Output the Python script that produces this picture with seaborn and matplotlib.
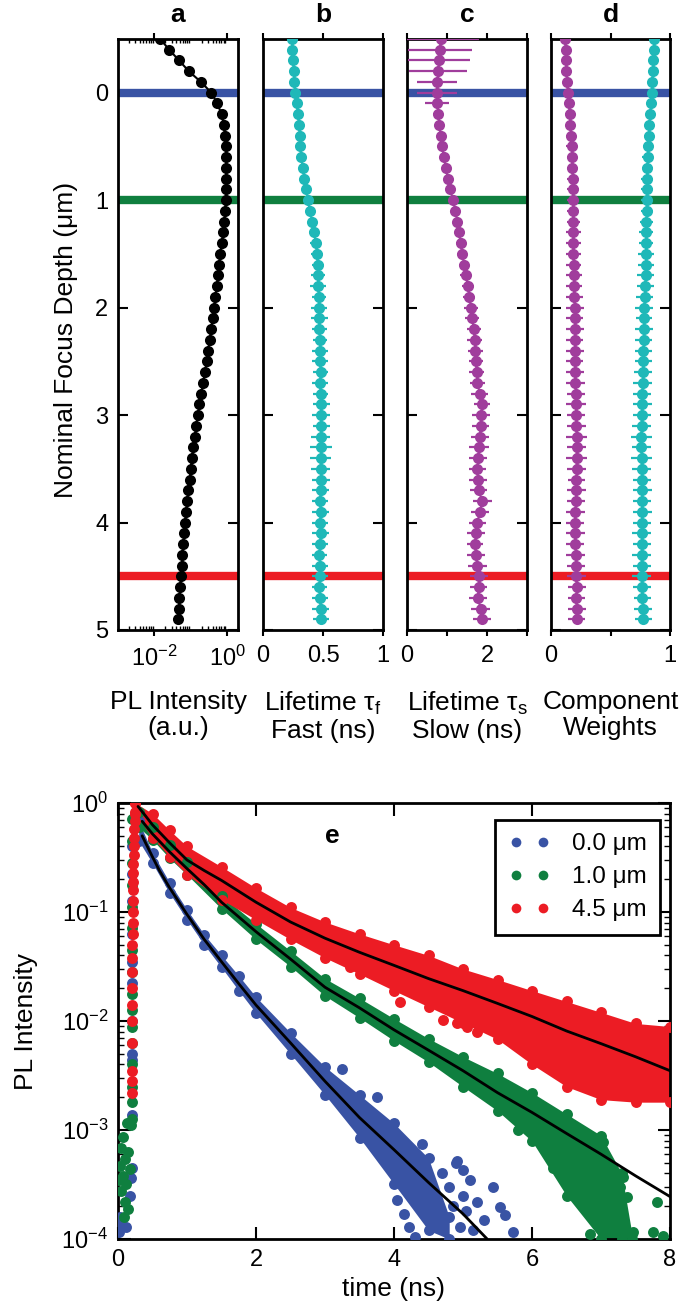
import numpy as np
import pandas as pd
import matplotlib
matplotlib.use("Agg")
import matplotlib.pyplot as plt
import seaborn as sns
from matplotlib.lines import Line2D
from matplotlib.ticker import FixedLocator, LogLocator, NullLocator

# ---- depth scan (panels a-d) ----
depth = [-0.5, -0.4, -0.3, -0.2, -0.1, 0.0, 0.1, 0.2, 0.3, 0.4,
         0.5, 0.6, 0.7, 0.8, 0.9, 1.0, 1.1, 1.2, 1.3, 1.4,
         1.5, 1.6, 1.7, 1.8, 1.9, 2.0, 2.1, 2.2, 2.3, 2.4,
         2.5, 2.6, 2.7, 2.8, 2.9, 3.0, 3.1, 3.2, 3.3, 3.4,
         3.5, 3.6, 3.7, 3.8, 3.9, 4.0, 4.1, 4.2, 4.3, 4.4,
         4.5, 4.6, 4.7, 4.8, 4.9]

pl_int = [0.0145, 0.0257, 0.0479, 0.0891, 0.191, 0.372, 0.537, 0.708, 0.813, 0.871,
          0.912, 0.933, 0.933, 0.933, 0.933, 0.912, 0.891, 0.832, 0.776, 0.708,
          0.646, 0.603, 0.562, 0.513, 0.479, 0.437, 0.398, 0.363, 0.331, 0.302,
          0.275, 0.245, 0.219, 0.195, 0.174, 0.155, 0.141, 0.129, 0.117, 0.107,
          0.100, 0.0933, 0.0851, 0.0794, 0.0741, 0.0692, 0.0661, 0.0617, 0.0589, 0.0562,
          0.0537, 0.0513, 0.0490, 0.0468, 0.0447]

tau_fast = [0.24, 0.245, 0.25, 0.255, 0.26, 0.27, 0.28, 0.29, 0.30, 0.305,
            0.31, 0.32, 0.33, 0.345, 0.36, 0.375, 0.39, 0.41, 0.425, 0.44,
            0.45, 0.455, 0.46, 0.46, 0.465, 0.465, 0.47, 0.47, 0.475, 0.475,
            0.475, 0.48, 0.475, 0.48, 0.485, 0.48, 0.485, 0.48, 0.485, 0.48,
            0.48, 0.485, 0.48, 0.475, 0.48, 0.475, 0.48, 0.475, 0.47, 0.475,
            0.475, 0.47, 0.475, 0.48, 0.485]
tau_fast_err = [0.01, 0.01, 0.01, 0.01, 0.01, 0.01, 0.01, 0.012, 0.014, 0.016,
                0.018, 0.02, 0.02, 0.022, 0.024, 0.026, 0.028, 0.03, 0.04, 0.045,
                0.05, 0.05, 0.06, 0.065, 0.06, 0.065, 0.07, 0.065, 0.06, 0.065,
                0.07, 0.065, 0.07, 0.065, 0.07, 0.075, 0.07, 0.08, 0.09, 0.09,
                0.08, 0.075, 0.07, 0.065, 0.07, 0.065, 0.07, 0.065, 0.06, 0.065,
                0.07, 0.06, 0.065, 0.07, 0.065]

tau_slow = [0.84, 0.82, 0.80, 0.78, 0.76, 0.75, 0.76, 0.78, 0.81, 0.84,
            0.88, 0.92, 0.97, 1.02, 1.08, 1.15, 1.21, 1.26, 1.30, 1.34,
            1.38, 1.43, 1.47, 1.52, 1.56, 1.60, 1.63, 1.67, 1.69, 1.71,
            1.72, 1.74, 1.76, 1.82, 1.88, 1.85, 1.84, 1.82, 1.80, 1.78,
            1.76, 1.77, 1.79, 1.88, 1.82, 1.76, 1.72, 1.70, 1.72, 1.76,
            1.80, 1.79, 1.77, 1.84, 1.87]
tau_slow_err = [0.95, 0.8, 0.78, 0.72, 0.5, 0.5, 0.3, 0.12, 0.06, 0.04,
                0.04, 0.04, 0.05, 0.05, 0.05, 0.06, 0.06, 0.07, 0.1, 0.11,
                0.12, 0.13, 0.14, 0.15, 0.15, 0.18, 0.17, 0.18, 0.19, 0.18,
                0.18, 0.19, 0.18, 0.21, 0.2, 0.22, 0.21, 0.22, 0.24, 0.23,
                0.21, 0.22, 0.21, 0.24, 0.22, 0.21, 0.22, 0.21, 0.22, 0.24,
                0.22, 0.21, 0.22, 0.24, 0.22]

w_slow = [0.118, 0.122, 0.126, 0.13, 0.136, 0.143, 0.15, 0.156, 0.162, 0.168,
          0.174, 0.177, 0.18, 0.182, 0.184, 0.185, 0.186, 0.187, 0.188, 0.188,
          0.189, 0.19, 0.192, 0.194, 0.196, 0.2, 0.2, 0.201, 0.2, 0.202,
          0.2, 0.203, 0.205, 0.208, 0.21, 0.213, 0.214, 0.215, 0.216, 0.215,
          0.215, 0.214, 0.212, 0.21, 0.205, 0.2, 0.202, 0.205, 0.208, 0.21,
          0.213, 0.215, 0.214, 0.215, 0.215]
w_fast = [0.866, 0.862, 0.858, 0.855, 0.85, 0.846, 0.84, 0.834, 0.826, 0.82,
          0.815, 0.812, 0.81, 0.808, 0.806, 0.804, 0.803, 0.802, 0.801, 0.8,
          0.8, 0.798, 0.795, 0.792, 0.788, 0.784, 0.782, 0.78, 0.779, 0.777,
          0.775, 0.773, 0.77, 0.767, 0.765, 0.762, 0.761, 0.76, 0.76, 0.761,
          0.762, 0.763, 0.765, 0.765, 0.766, 0.765, 0.764, 0.763, 0.762, 0.762,
          0.762, 0.764, 0.768, 0.772, 0.775]
w_err = [0.01, 0.01, 0.012, 0.014, 0.016, 0.02, 0.03, 0.035, 0.04, 0.04,
         0.045, 0.045, 0.045, 0.05, 0.05, 0.05, 0.05, 0.055, 0.06, 0.06,
         0.065, 0.065, 0.07, 0.07, 0.07, 0.075, 0.07, 0.075, 0.07, 0.075,
         0.07, 0.075, 0.08, 0.075, 0.08, 0.075, 0.08, 0.085, 0.08, 0.085,
         0.08, 0.075, 0.08, 0.075, 0.08, 0.075, 0.08, 0.075, 0.08, 0.075,
         0.08, 0.075, 0.07, 0.075, 0.07]

marked_depths = [0.0, 1.0, 4.5]
marked_labels = ["0.0 \u03bcm", "1.0 \u03bcm", "4.5 \u03bcm"]
marked_colors = ["#3953A4", "#0F7F3F", "#EC1C24"]

# ---- decay curves (panel e) ----
# blue: 0.0 um
blue_fit_t = [0.35, 0.4, 0.5, 0.6, 0.75, 1.0, 1.25, 1.5, 1.75, 2.0, 2.5, 3.0, 3.5, 4.0, 4.5, 5.0, 5.35]
blue_fit_I = [0.50, 0.43, 0.32, 0.24, 0.166, 0.095, 0.056, 0.035, 0.022, 0.014,
              6.3e-3, 2.8e-3, 1.3e-3, 6.6e-4, 3.3e-4, 1.7e-4, 1.0e-4]
blue_band_t = [0.3, 0.5, 0.75, 1.0, 1.25, 1.5, 1.75, 2.0, 2.5, 3.0, 3.5, 4.0, 4.5, 4.8]
blue_band_lo = [0.45, 0.28, 0.148, 0.085, 0.050, 0.031, 0.019, 0.0118, 5.0e-3, 2.1e-3,
                8.5e-4, 3.2e-4, 1.2e-4, 1.0e-4]
blue_band_hi = [0.68, 0.35, 0.185, 0.105, 0.062, 0.040, 0.026, 0.0166, 7.8e-3, 3.8e-3,
                2.1e-3, 1.15e-3, 5.5e-4, 1.6e-4]
blue_dot_t = [0.21, 0.21, 0.21, 0.21, 0.21, 0.2, 0.2, 0.2, 0.2, 0.2,
              0.2, 0.19, 0.03, 0.05, 0.12, 0.02, 0.17,
              3.25, 3.75, 4.05, 4.15, 4.22, 4.3, 4.4, 4.6, 4.7, 4.75, 4.8, 4.85, 4.9, 4.91,
              4.95, 5.0, 5.0, 5.05, 5.1, 5.15, 5.2, 5.3, 5.43, 5.54, 5.61, 5.72]
blue_dot_I = [0.40, 0.224, 0.126, 0.063, 0.035, 0.0224, 0.010, 5.0e-3, 4.4e-3, 1.38e-3,
              4.5e-4, 3.6e-4, 1.6e-4, 1.35e-4, 1.3e-4, 1.15e-4, 2.5e-4,
              3.6e-3, 2.0e-3, 2.3e-4, 1.7e-4, 1.3e-4, 1.05e-4, 7.5e-4, 2.5e-4, 4.0e-4, 1.6e-4,
              3.0e-4, 2.0e-4, 5.0e-4, 5.2e-4,
              1.3e-4, 4.3e-4, 2.5e-4, 1.8e-4, 3.5e-4, 1.2e-4, 2.2e-4, 1.5e-4, 3.0e-4, 1.95e-4,
              1.65e-4, 1.15e-4]

# green: 1.0 um
green_fit_t = [0.35, 0.5, 0.75, 1.0, 1.25, 1.5, 2.0, 2.5, 3.0, 3.5, 4.0, 4.5, 5.0, 5.5, 6.0, 6.5, 7.0, 7.5, 8.0]
green_fit_I = [0.68, 0.52, 0.355, 0.25, 0.178, 0.123, 0.066, 0.037, 0.0204, 0.0132,
               8.3e-3, 5.4e-3, 3.5e-3, 2.2e-3, 1.45e-3, 9.3e-4, 6.0e-4, 3.8e-4, 2.45e-4]
green_band_t = [0.3, 0.5, 0.75, 1.0, 1.5, 2.0, 2.5, 3.0, 3.5, 4.0, 4.5, 5.0, 5.5, 6.0, 6.5, 7.0, 7.3, 7.45]
green_band_lo = [0.60, 0.46, 0.31, 0.22, 0.107, 0.056, 0.0316, 0.017, 0.0107, 6.6e-3,
                 4.2e-3, 2.5e-3, 1.5e-3, 7.9e-4, 2.5e-4, 1.0e-4, 1.0e-4, 1.0e-4]
green_band_hi = [0.83, 0.60, 0.41, 0.29, 0.141, 0.078, 0.044, 0.0245, 0.0162, 0.0105,
                 6.9e-3, 4.7e-3, 3.3e-3, 2.2e-3, 1.4e-3, 8.9e-4, 4.0e-4, 1.1e-4]
green_dot_t = [0.2, 0.2, 0.2, 0.2, 0.2, 0.2, 0.2, 0.2, 0.2, 0.2, 0.2, 0.2, 0.2, 0.2, 0.2, 0.2,
               0.13, 0.19, 0.07, 0.05, 0.15, 0.10, 0.03, 0.17, 0.07, 0.12, 0.05, 0.10, 0.08, 0.14, 0.02,
               7.03, 7.32, 7.27, 7.38, 7.32, 7.46, 7.81, 7.76, 7.9, 6.84, 5.8, 6.3]
green_dot_I = [0.71, 0.45, 0.28, 0.178, 0.112, 0.071, 0.045, 0.028, 0.0178, 0.0126, 8.9e-3, 6.3e-3,
               4.0e-3, 2.5e-3, 1.8e-3, 1.26e-3,
               1.15e-3, 1.1e-3, 8.7e-4, 6.8e-4, 6.3e-4, 5.4e-4, 4.7e-4, 4.4e-4, 3.8e-4, 3.2e-4,
               2.75e-4, 2.2e-4, 1.6e-4, 1.9e-4, 3.5e-4,
               7.8e-4, 3.7e-4, 3.0e-4, 2.45e-4, 1.4e-4, 1.15e-4, 2.2e-4, 1.15e-4, 1.07e-4, 1.1e-4,
               1.0e-3, 4.5e-4]

# red: 4.5 um
red_fit_t = [0.29, 0.4, 0.5, 0.75, 1.0, 1.25, 1.5, 2.0, 2.5, 3.0, 3.5, 4.0, 4.5, 5.0, 5.5, 6.0, 6.5, 7.0, 7.5, 8.0]
red_fit_I = [0.93, 0.76, 0.63, 0.43, 0.30, 0.24, 0.195, 0.123, 0.081, 0.0575, 0.0427, 0.0324,
             0.0245, 0.019, 0.0145, 0.011, 8.1e-3, 6.2e-3, 4.7e-3, 3.5e-3]
red_band_t = [0.25, 0.5, 0.75, 1.0, 1.5, 2.0, 2.5, 3.0, 3.5, 4.0, 4.5, 5.0, 5.5, 6.0, 6.5, 7.0, 7.5, 8.0]
red_band_lo = [0.79, 0.48, 0.32, 0.22, 0.13, 0.085, 0.056, 0.038, 0.027, 0.019, 0.0135, 9.6e-3,
               6.8e-3, 4.0e-3, 2.5e-3, 1.9e-3, 1.8e-3, 1.8e-3]
red_band_hi = [1.0, 0.80, 0.56, 0.40, 0.26, 0.166, 0.11, 0.081, 0.063, 0.050, 0.040, 0.030,
               0.024, 0.019, 0.0151, 0.012, 9.5e-3, 8.9e-3]
red_dot_t = [0.24, 0.24, 0.24, 0.23, 0.23, 0.23, 0.23, 0.22, 0.22, 0.22, 0.22, 0.22, 0.22,
             0.22, 0.22, 0.21, 0.21, 0.21, 0.21, 0.21, 0.21, 0.21, 0.21, 0.21, 0.21,
             4.09, 4.71, 4.91, 5.06, 5.2, 3.36, 5.83]
red_dot_I = [1.0, 0.83, 0.69, 0.575, 0.48, 0.40, 0.33, 0.275, 0.23, 0.19, 0.158, 0.126, 0.10,
             0.079, 0.063, 0.050, 0.038, 0.028, 0.020, 0.0141, 0.010, 6.3e-3, 3.5e-3, 2.8e-3, 2.2e-3,
             0.0148, 0.0102, 9.5e-3, 8.9e-3, 7.9e-3, 0.0316, 5.8e-3]

cyan = "#1FB8B8"
magenta = "#A03D9C"

sns.set_style("ticks")
plt.rcParams['font.family'] = ['Liberation Sans', 'DejaVu Sans']
plt.rcParams['mathtext.fontset'] = 'custom'
plt.rcParams['mathtext.rm'] = 'Liberation Sans'
plt.rcParams['mathtext.it'] = 'Liberation Sans:italic'
plt.rcParams['mathtext.bf'] = 'Liberation Sans:bold'
plt.rcParams['axes.edgecolor'] = 'black'
plt.rcParams['text.color'] = 'black'
plt.rcParams['axes.labelcolor'] = 'black'
plt.rcParams['xtick.color'] = 'black'
plt.rcParams['ytick.color'] = 'black'

W, H = 685, 1315
fig = plt.figure(figsize=(W / 100, H / 100), dpi=100)


def box(x0, y0, x1, y1):
    return [x0 / W, 1 - y1 / H, (x1 - x0) / W, (y1 - y0) / H]


ax_a = fig.add_axes(box(118, 39, 238, 630))
ax_b = fig.add_axes(box(263, 39, 383, 630))
ax_c = fig.add_axes(box(407, 39, 527, 630))
ax_d = fig.add_axes(box(551, 39, 670, 630))
ax_e = fig.add_axes(box(118, 803, 670, 1239))
top_axes = [ax_a, ax_b, ax_c, ax_d]

# panel a
sns.lineplot(x=pl_int, y=depth, sort=False, estimator=None, ax=ax_a, color='black',
             lw=1.5, marker='o', markersize=8, markeredgewidth=0, zorder=3)
ax_a.set_xscale('log')
ax_a.set_xlim(1e-3, 2)
ax_a.xaxis.set_major_locator(FixedLocator([1e-2, 1e0]))
ax_a.xaxis.set_minor_locator(LogLocator(base=10, subs=np.arange(2, 10)))
ax_a.tick_params(axis='x', which='minor', direction='in', length=3, width=1, top=True, bottom=True)

eb = dict(fmt='o-', ms=8, mew=0, lw=1.5, elinewidth=1.6, capsize=3.5, capthick=1.6, zorder=3)
# panel b
ax_b.errorbar(tau_fast, depth, xerr=tau_fast_err, color=cyan, **eb)
ax_b.set_xlim(0, 1)
ax_b.set_xticks([0, 0.5, 1])
ax_b.set_xticklabels(['0', '0.5', '1'])
# panel c
ax_c.errorbar(tau_slow, depth, xerr=tau_slow_err, color=magenta, **eb)
ax_c.set_xlim(0, 3)
ax_c.set_xticks([0, 1, 2, 3])
ax_c.set_xticklabels(['0', '', '2', ''])
# panel d
ax_d.errorbar(w_slow, depth, xerr=w_err, color=magenta, **eb)
ax_d.errorbar(w_fast, depth, xerr=w_err, color=cyan, **eb)
ax_d.set_xlim(0, 1)
ax_d.set_xticks([0, 0.5, 1])
ax_d.set_xticklabels(['0', '', '1'])

xlabels = ['PL Intensity\n(a.u.)', 'Lifetime \u03c4$_\\mathregular{f}$\nFast (ns)',
           'Lifetime \u03c4$_\\mathregular{s}$\nSlow (ns)', 'Component\nWeights']
for ax, letter, xl in zip(top_axes, 'abcd', xlabels):
    ax.set_ylim(5, -0.5)
    ax.set_yticks([0, 1, 2, 3, 4, 5])
    for yv, c in zip(marked_depths, marked_colors):
        ax.axhline(yv, color=c, lw=6, zorder=1)
    ax.tick_params(axis='y', which='major', direction='in', length=7, width=1.5,
                   left=True, right=True, labelsize=17, pad=7)
    ax.tick_params(axis='x', which='major', direction='out', length=4, width=1.5,
                   top=True, bottom=True, labelsize=17, pad=7)
    for s in ax.spines.values():
        s.set_linewidth(2)
    ax.set_xlabel(xl, fontsize=19, linespacing=1.1)
    ax.xaxis.set_label_coords(0.5, -0.102)
    ax.text(0.5, 1.0406, letter, transform=ax.transAxes, ha='center', va='center',
            fontsize=19, fontweight='bold')
    if ax is not ax_a:
        ax.tick_params(axis='y', labelleft=False)

ax_a.set_ylabel('Nominal Focus Depth (\u03bcm)', fontsize=19)
ax_a.yaxis.set_label_coords(-0.33, 0.49)

# panel e
series = [
    (marked_colors[0], blue_band_t, blue_band_lo, blue_band_hi, blue_dot_t, blue_dot_I, blue_fit_t, blue_fit_I),
    (marked_colors[1], green_band_t, green_band_lo, green_band_hi, green_dot_t, green_dot_I, green_fit_t, green_fit_I),
    (marked_colors[2], red_band_t, red_band_lo, red_band_hi, red_dot_t, red_dot_I, red_fit_t, red_fit_I),
]
ax_e.set_yscale('log')
for color, bt, blo, bhi, dt, dI, ft, fI in series:
    ax_e.fill_between(bt, blo, bhi, color=color, lw=0, zorder=2)
    pts = pd.DataFrame({'t': bt + bt + dt, 'I': blo + bhi + dI})
    sns.scatterplot(data=pts, x='t', y='I', ax=ax_e, color=color, s=62, linewidth=0,
                    zorder=3, legend=False)
for color, bt, blo, bhi, dt, dI, ft, fI in series:
    ax_e.plot(ft, fI, color='black', lw=2, zorder=5)

ax_e.set_xlim(0, 8)
ax_e.set_ylim(1e-4, 1)
ax_e.set_xticks([0, 2, 4, 6, 8])
ax_e.xaxis.set_minor_locator(NullLocator())
ax_e.yaxis.set_minor_locator(LogLocator(base=10, subs=np.arange(2, 10)))
ax_e.tick_params(which='major', direction='in', length=9, width=1.5, top=True, right=True,
                 labelsize=17, pad=7)
ax_e.tick_params(axis='y', which='minor', direction='in', length=4.5, width=1, left=True, right=True)
for s in ax_e.spines.values():
    s.set_linewidth(2)
ax_e.set_xlabel('time (ns)', fontsize=19)
ax_e.xaxis.set_label_coords(0.5, -0.087)
ax_e.set_ylabel('PL Intensity', fontsize=19)
ax_e.yaxis.set_label_coords(-0.145, 0.5)
ax_e.text(0.389, 0.924, 'e', transform=ax_e.transAxes, ha='center', va='center',
          fontsize=19, fontweight='bold')

handles = [Line2D([], [], ls='', marker='o', ms=7, mew=0, color=c, label=l)
           for c, l in zip(marked_colors, marked_labels)]
leg = ax_e.legend(handles=handles, loc='upper right', bbox_to_anchor=(0.982, 0.961),
                  borderaxespad=0, numpoints=2, fontsize=17.5, handlelength=1.7,
                  handletextpad=0.9, labelspacing=0.45, borderpad=0.55,
                  fancybox=False, framealpha=1, edgecolor='black')
leg.get_frame().set_linewidth(2)

fig.savefig('out.png', dpi=100)
